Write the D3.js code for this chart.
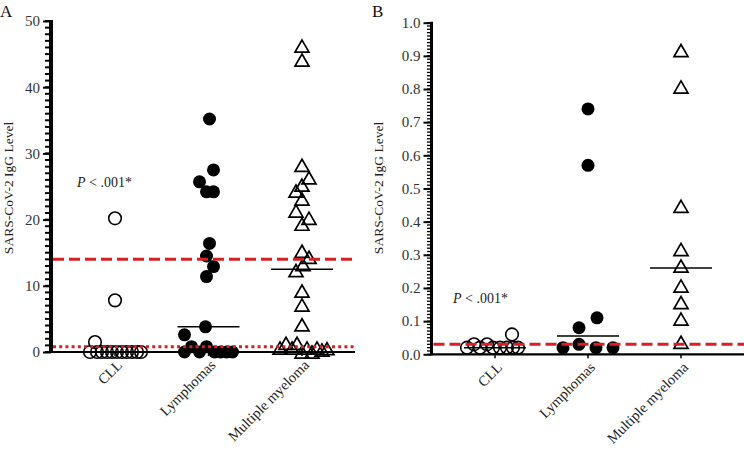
<!DOCTYPE html>
<html><head><meta charset="utf-8">
<script src="https://cdn.jsdelivr.net/npm/d3@7"></script>
<style>body{margin:0;background:#fff}svg{display:block}text{font-family:"Liberation Serif","Times New Roman",serif}</style>
</head><body><svg id="c" width="744" height="449"></svg>
<script>
const categories = ["CLL", "Lymphomas", "Multiple myeloma"];
// Panel A values
const aCLL = [20.2, 7.8, 1.5, 0, 0, 0, 0, 0, 0, 0, 0, 0, 0, 0];
const aCLLSlot = [0, 0, -4, -5, -3.6, -2.6, -1.6, -0.6, 0.4, 1.4, 2.4, 3.4, 4.4, 5.2];
const aLym = [35.2, 27.5, 25.7, 24.2, 24.2, 16.4, 14.5, 12.9, 11.4, 3.8, 2.6, 0.8, 0.8, 0, 0, 0, 0, 0, 0];
const aLymSlot = [0.2, 1, -1.8, -0.4, 1, 0.2, -0.4, 1, -0.4, -0.6, -4.8, -3.4, -0.4, -4.8, -1.8, 1.2, 2.4, 3.6, 4.8];
const aMM = [45.9, 43.8, 27.9, 26.0, 24.9, 24.0, 22.8, 21.0, 19.9, 19.0, 14.9, 14.0, 12.9, 12.0, 8.9, 6.8, 3.8,
             0.3, 1.0, 0.3, 1.0, -0.3, 0.3, -0.3, 0.3, 0, 0.2];
const aMMSlot = [0, 0, 0, 1.4, 0, -1.2, 0, -1.2, 1.4, 0, 0, 1.4, 0.2, -1.2, 0, 0, 0,
                 -4.4, -3.2, -2, -1, 0, 1, 2, 3, 4, 5];
const aMedians = [0, 3.8, 12.5];
const aTicks = [0, 10, 20, 30, 40, 50];
const aDashed = 14, aDotted = 0.8;
// Panel B values
const bCLL = [0.02, 0.03, 0.02, 0.03, 0.02, 0.02, 0.02, 0.02, 0.02, 0.06];
const bCLLSlot = [-5.6, -4.2, -3, -1.6, -0.4, 1, 2.4, 3.6, 4.6, 3.4];
const bLym = [0.74, 0.57, 0.11, 0.08, 0.03, 0.02, 0.02, 0.02];
const bLymSlot = [0, 0, 1.8, -1.8, -1.8, -5, 1.6, 5];
const bMM = [0.91, 0.80, 0.44, 0.31, 0.26, 0.20, 0.15, 0.10, 0.03];
const bMMSlot = [0, 0, 0, 0, 0, 0, 0, 0, 0];
const bMedians = [0.02, 0.055, 0.26];
const bTicks = [0, 0.1, 0.2, 0.3, 0.4, 0.5, 0.6, 0.7, 0.8, 0.9, 1.0];
const bDashed = 0.03;
const yTitle = "SARS-CoV-2 IgG Level";
const pText = "< .001*";

const svg = d3.select("#c");
const RED = "#d42027";

function panel(o) {
  const g = svg.append("g");
  const y = d3.scaleLinear().domain([0, o.ymax]).range([o.y0, o.y1]);
  const x = d3.scalePoint().domain(categories).range([o.cx0, o.cx1]);
  const slot = d3.scaleLinear().domain([0, 1]).range([0, 5]);
  // minor ticks (drawn from the y scale)
  const minorVals = d3.range(0, o.nMinor + 1).map(i => i * o.ymax / o.nMinor);
  g.append("g").selectAll("line").data(minorVals).enter().append("line")
    .attr("x1", o.ax - o.minorLen).attr("x2", o.ax).attr("y1", d => y(d)).attr("y2", d => y(d))
    .attr("stroke", "#000").attr("stroke-width", o.minorW);
  // major ticks and labels
  const ya = g.append("g").attr("transform", `translate(${o.ax},0)`)
    .call(d3.axisLeft(y).tickValues(o.ticks).tickSize(8).tickSizeOuter(0).tickPadding(3).tickFormat(o.fmt));
  ya.select(".domain").remove();
  ya.selectAll(".tick line").attr("stroke", "#000").attr("stroke-width", 2);
  ya.selectAll("text").attr("font-size", 15).attr("fill", "#333").attr("font-family", "Liberation Serif");
  // y axis line
  g.append("line").attr("x1", o.ax).attr("x2", o.ax).attr("y1", y(0) + 1).attr("y2", y(o.ymax) - 1)
    .attr("stroke", "#000").attr("stroke-width", o.axW);
  // x axis line
  g.append("line").attr("x1", o.ax).attr("x2", o.xEnd).attr("y1", y(0)).attr("y2", y(0))
    .attr("stroke", "#000").attr("stroke-width", 2.2);
  // category ticks
  g.selectAll(".ct").data(categories).enter().append("line")
    .attr("x1", d => x(d)).attr("x2", d => x(d)).attr("y1", y(0)).attr("y2", y(0) + 4)
    .attr("stroke", "#000").attr("stroke-width", 1.5);
  // category labels
  g.selectAll(".cl").data(categories).enter().append("text")
    .attr("transform", d => `translate(${x(d) + 8},${y(0) + 14}) rotate(-45)`)
    .attr("text-anchor", "end").attr("font-size", 14.5).attr("fill", "#222").text(d => d);
  // CLL open circles
  g.selectAll(".c1").data(o.cll.map((v, i) => [v, o.cllSlot[i]])).enter().append("circle")
    .attr("cx", d => x(categories[0]) + slot(d[1])).attr("cy", d => y(d[0])).attr("r", 6.3)
    .attr("fill", "none").attr("stroke", "#000").attr("stroke-width", 1.6);
  // Lymphoma filled circles
  g.selectAll(".c2").data(o.lym.map((v, i) => [v, o.lymSlot[i]])).enter().append("circle")
    .attr("cx", d => x(categories[1]) + slot(d[1])).attr("cy", d => y(d[0])).attr("r", 6.5)
    .attr("fill", "#000");
  // MM triangles
  const tri = d3.symbol().type(d3.symbolTriangle).size(85);
  g.selectAll(".c3").data(o.mm.map((v, i) => [v, o.mmSlot[i]])).enter().append("path")
    .attr("d", tri)
    .attr("transform", d => `translate(${x(categories[2]) + slot(d[1])},${y(d[0])})`)
    .attr("fill", "none").attr("stroke", "#000").attr("stroke-width", 1.7);
  // medians
  g.selectAll(".md").data(o.medians).enter().append("line")
    .attr("x1", (d, i) => x(categories[i]) - 31).attr("x2", (d, i) => x(categories[i]) + 31)
    .attr("y1", d => y(d)).attr("y2", d => y(d)).attr("stroke", "#000").attr("stroke-width", 1.5);
  // thresholds
  g.append("line").attr("x1", o.ax + 2).attr("x2", o.xEnd).attr("y1", y(o.dashed)).attr("y2", y(o.dashed))
    .attr("stroke", RED).attr("stroke-width", 3).attr("stroke-dasharray", "11,5");
  if (o.dotted != null)
    g.append("line").attr("x1", o.ax + 2).attr("x2", o.xEnd).attr("y1", y(o.dotted)).attr("y2", y(o.dotted))
      .attr("stroke", RED).attr("stroke-width", 3).attr("stroke-dasharray", "3,3.2");
  // P text
  const t = g.append("text").attr("x", o.px).attr("y", o.py).attr("font-size", 14).attr("fill", "#222");
  t.append("tspan").attr("font-style", "italic").text("P");
  t.append("tspan").text(" " + pText);
  // y title
  g.append("text").attr("transform", `translate(${o.tx},${o.ty}) rotate(-90)`)
    .attr("text-anchor", "middle").attr("font-size", 13.5).attr("fill", "#222").text(yTitle);
  // panel letter
  g.append("text").attr("x", o.lx).attr("y", 17).attr("font-size", 17).attr("fill", "#111").text(o.letter);
}

panel({ymax: 50, y0: 352, y1: 21, ax: 51, xEnd: 355, cx0: 115, cx1: 302, nMinor: 50, minorLen: 6, minorW: 2, axW: 4,
  ticks: aTicks, fmt: d3.format("d"), cll: aCLL, cllSlot: aCLLSlot, lym: aLym, lymSlot: aLymSlot, mm: aMM, mmSlot: aMMSlot,
  medians: aMedians, dashed: aDashed, dotted: aDotted, px: 77, py: 187, tx: 13, ty: 188, lx: 0, letter: "A"});
panel({ymax: 1.0, y0: 354.3, y1: 22.7, ax: 431.5, xEnd: 744, cx0: 495, cx1: 681, nMinor: 100, minorLen: 4.5, minorW: 1.3, axW: 3,
  ticks: bTicks, fmt: d3.format(".1f"), cll: bCLL, cllSlot: bCLLSlot, lym: bLym, lymSlot: bLymSlot, mm: bMM, mmSlot: bMMSlot,
  medians: bMedians, dashed: bDashed, dotted: null, px: 453, py: 303, tx: 383, ty: 188, lx: 372, letter: "B"});
</script></body></html>
